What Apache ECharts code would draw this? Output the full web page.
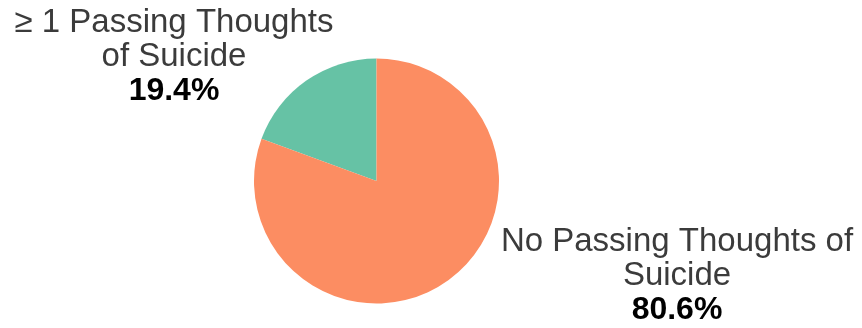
<!DOCTYPE html>
<html>
<head>
<meta charset="utf-8">
<style>
  html, body { margin: 0; padding: 0; background: #ffffff; }
  #chart { width: 862px; height: 328px; }
</style>
<script src="https://cdn.jsdelivr.net/npm/echarts@6/dist/echarts.min.js"></script>
</head>
<body>
<div id="chart"></div>
<script>
// Share of respondents by passing thoughts of suicide (percent)
const categories = ['≥ 1 Passing Thoughts\nof Suicide', 'No Passing Thoughts of\nSuicide'];
const shares = [19.4, 80.6];
const sliceColors = ['#66c2a5', '#fc8d62'];

// Where each label block is centred
const labelAnchors = [
  { x: 174, y: 57 },
  { x: 677, y: 276 }
];

const chart = echarts.init(document.getElementById('chart'), null, { renderer: 'canvas' });

chart.setOption({
  animation: false,
  backgroundColor: '#ffffff',
  series: [{
    type: 'pie',
    center: [376.5, 181],
    radius: [0, 122.5],
    startAngle: 90,
    clockwise: false,
    silent: true,
    data: categories.map((name, i) => ({
      name: name,
      value: shares[i],
      itemStyle: { color: sliceColors[i] }
    })),
    label: {
      show: true,
      position: 'outside',
      overflow: 'none',
      width: 400,
      formatter: p => '{n|' + p.name.split('\n').join('}\n{n|') + '}\n{v|' + p.value.toFixed(1) + '%}',
      align: 'center',
      rich: {
        n: {
          fontFamily: '"Liberation Sans", Arial, sans-serif',
          fontSize: 33,
          lineHeight: 34,
          color: '#3b3b3b',
          align: 'center'
        },
        v: {
          fontFamily: '"Liberation Sans", Arial, sans-serif',
          fontSize: 32,
          fontWeight: 'bold',
          lineHeight: 34,
          color: '#000000',
          align: 'center'
        }
      }
    },
    labelLine: { show: false },
    labelLayout: p => ({
      x: labelAnchors[p.dataIndex].x,
      y: labelAnchors[p.dataIndex].y,
      align: 'center',
      verticalAlign: 'middle'
    })
  }]
});
</script>
</body>
</html>
